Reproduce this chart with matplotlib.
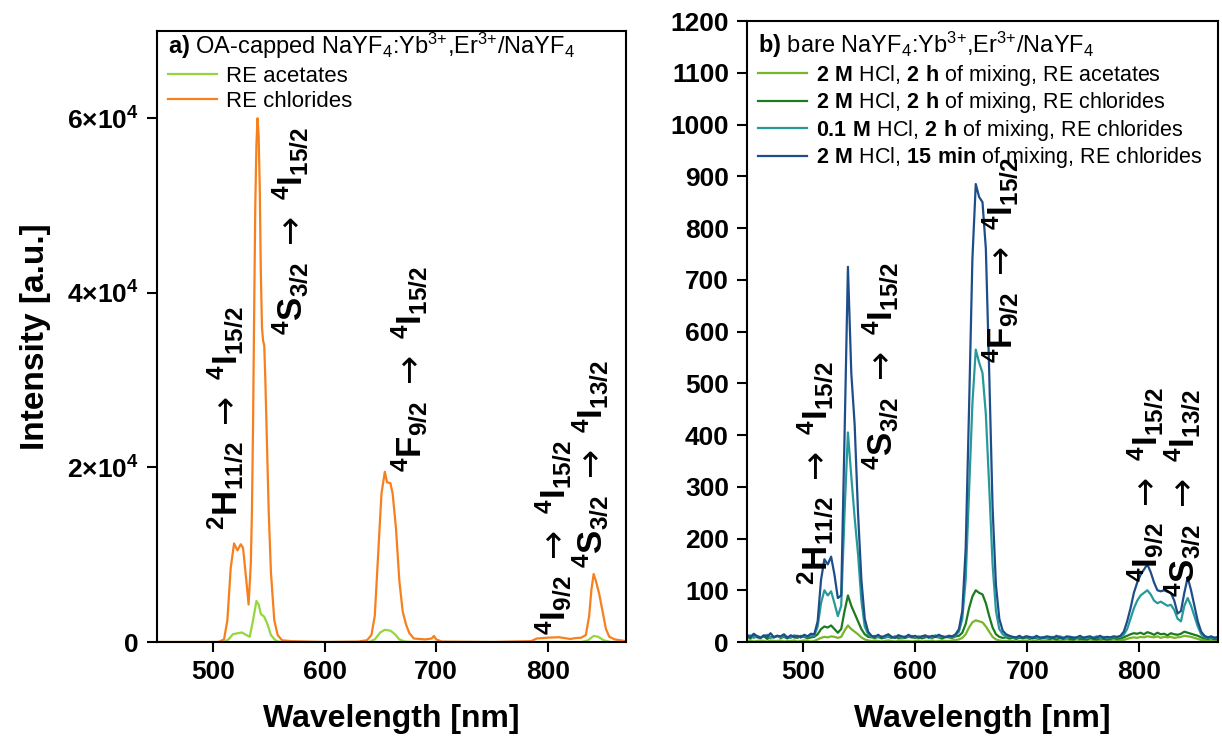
import numpy as np
import matplotlib.pyplot as plt

plt.rcParams['font.family'] = ['Liberation Sans', 'DejaVu Sans']
plt.rcParams['mathtext.fontset'] = 'custom'
plt.rcParams['mathtext.rm'] = 'Liberation Sans'
plt.rcParams['mathtext.bf'] = 'Liberation Sans:bold'
plt.rcParams['mathtext.sf'] = 'DejaVu Sans'
plt.rcParams['mathtext.default'] = 'regular'

# ---- panel a) OA-capped particles (smooth spectra) ----
wl_a_chl = [450, 480, 505, 510, 513, 516, 519, 522, 525, 527, 530, 532, 534, 535, 536,
            537, 538, 539, 540, 541, 542, 543, 544, 545, 546, 547, 548, 550, 552, 555,
            558, 562, 570, 600, 630, 638, 642, 645, 648, 651, 654, 656, 659, 661, 664,
            667, 670, 673, 676, 680, 690, 696, 698, 700, 705, 750, 785, 790, 800, 810,
            815, 820, 825, 830, 834, 837, 839, 841, 843, 846, 849, 852, 855, 860, 870]
int_a_chl = [0, 0, 0, 300, 2500, 8500, 11300, 10500, 11200, 10800, 7000, 4300, 9000, 15000, 25000,
             38000, 50000, 57000, 60000, 58000, 52000, 42000, 36000, 34500, 34000, 30000, 25000, 15000, 8000, 2500,
             800, 200, 100, 0, 50, 200, 800, 3000, 10000, 17000, 19500, 18300, 18200, 17000, 13000,
             7000, 3500, 2000, 1000, 400, 300, 400, 700, 300, 50, 0, 100, 400, 500, 550,
             450, 350, 450, 500, 800, 3000, 6000, 7800, 7000, 5500, 3500, 1500, 600, 300, 100]

wl_a_ac = [450, 510, 514, 518, 522, 526, 530, 533, 536, 539, 541, 543, 546, 549, 552,
           556, 560, 640, 645, 650, 654, 659, 663, 667, 672, 680, 830, 836, 841, 845,
           850, 856, 870]
int_a_ac = [0, 0, 300, 900, 1000, 1100, 800, 600, 2500, 4700, 4300, 3200, 2900, 2000, 800,
            200, 0, 0, 300, 1100, 1400, 1300, 900, 300, 50, 0, 0, 200, 700, 600,
            200, 0, 0]

a_labels = ['RE acetates', 'RE chlorides']
a_colors = ['#95D63C', '#F7801E']
a_yticks = [0, 20000, 40000, 60000]
a_yticklabels = ['0', '2×10$^{4}$', '4×10$^{4}$', '6×10$^{4}$']

# ---- panel b) bare particles (noisy spectra, 3 nm sampling) ----
wl_b = np.arange(450, 871, 3)

b_ac_2M_2h = [2, 3, 1, 2, 3, 2, 1, 3, 2, 2,
              3, 1, 2, 2, 3, 1, 2, 3, 2, 1,
              2, 5, 8, 10, 9, 11, 10, 8, 10, 22,
              32, 25, 20, 15, 9, 5, 3, 2, 3, 2,
              1, 2, 3, 2, 1, 2, 3, 2, 2, 1,
              2, 3, 1, 2, 2, 3, 1, 2, 3, 2,
              2, 3, 4, 5, 8, 15, 28, 38, 42, 40,
              38, 30, 20, 10, 5, 3, 2, 2, 3, 2,
              1, 2, 2, 3, 1, 2, 2, 1, 3, 2,
              2, 1, 2, 3, 2, 1, 2, 2, 1, 2,
              3, 2, 1, 2, 2, 3, 1, 2, 2, 1,
              2, 3, 4, 6, 8, 9, 8, 10, 9, 11,
              10, 9, 11, 8, 10, 9, 10, 8, 9, 10,
              12, 11, 10, 8, 6, 4, 3, 2, 2, 1,
              2]
b_chl_2M_2h = [10, 7, 12, 9, 8, 11, 6, 10, 9, 12,
               8, 10, 7, 11, 9, 8, 12, 10, 7, 9,
               10, 15, 25, 30, 28, 32, 25, 18, 25, 60,
               90, 70, 55, 40, 25, 15, 10, 9, 8, 10,
               7, 9, 10, 8, 11, 7, 9, 8, 10, 9,
               8, 10, 7, 9, 11, 8, 10, 9, 7, 10,
               9, 8, 11, 12, 18, 35, 65, 88, 100, 95,
               92, 75, 50, 28, 15, 10, 8, 9, 7, 8,
               6, 8, 7, 9, 6, 8, 7, 6, 8, 7,
               6, 7, 5, 8, 6, 7, 6, 5, 7, 6,
               6, 5, 7, 6, 5, 7, 6, 5, 6, 7,
               6, 7, 9, 12, 15, 17, 16, 18, 15, 19,
               17, 14, 18, 15, 16, 13, 17, 15, 14, 16,
               20, 18, 16, 14, 12, 9, 7, 6, 7, 5,
               6]
b_chl_01M_2h = [10, 13, 8, 12, 9, 11, 14, 8, 10, 12,
                9, 12, 10, 8, 13, 11, 9, 12, 10, 13,
                12, 30, 75, 100, 90, 98, 75, 50, 70, 250,
                405, 320, 240, 170, 80, 30, 15, 10, 12, 9,
                11, 8, 12, 10, 9, 13, 8, 11, 10, 12,
                9, 11, 10, 12, 8, 10, 13, 9, 11, 10,
                12, 10, 13, 20, 45, 120, 290, 460, 565, 540,
                520, 440, 300, 150, 60, 25, 15, 11, 10, 9,
                8, 10, 9, 11, 8, 10, 9, 7, 10, 8,
                9, 10, 8, 11, 9, 7, 10, 9, 8, 10,
                9, 8, 10, 9, 11, 8, 10, 9, 8, 10,
                9, 10, 14, 25, 45, 65, 80, 90, 95, 100,
                92, 80, 75, 78, 74, 70, 72, 62, 45, 40,
                70, 85, 70, 50, 30, 15, 10, 8, 9, 8,
                9]
b_chl_2M_15min = [14, 9, 16, 11, 8, 13, 10, 17, 9, 12,
                  11, 15, 8, 13, 10, 12, 9, 14, 11, 16,
                  15, 40, 120, 160, 150, 165, 130, 85, 90, 400,
                  725, 520, 420, 250, 120, 45, 20, 12, 10, 14,
                  9, 12, 15, 10, 8, 13, 11, 9, 14, 10,
                  12, 8, 11, 13, 9, 12, 10, 14, 11, 9,
                  12, 11, 15, 25, 60, 180, 450, 740, 885, 860,
                  850, 760, 520, 260, 110, 45, 22, 15, 12, 10,
                  9, 12, 8, 11, 10, 7, 12, 9, 8, 11,
                  10, 8, 12, 9, 7, 11, 10, 8, 9, 12,
                  8, 10, 11, 7, 9, 12, 8, 10, 9, 11,
                  10, 12, 20, 40, 65, 95, 115, 130, 140, 150,
                  135, 115, 100, 98, 100, 97, 95, 80, 55, 60,
                  95, 125, 100, 70, 40, 20, 12, 9, 11, 8,
                  10]

b_series = [b_ac_2M_2h, b_chl_2M_2h, b_chl_01M_2h, b_chl_2M_15min]
b_labels = [r'$\mathbf{2\ M}$ HCl, $\mathbf{2\ h}$ of mixing, RE acetates',
            r'$\mathbf{2\ M}$ HCl, $\mathbf{2\ h}$ of mixing, RE chlorides',
            r'$\mathbf{0.1\ M}$ HCl, $\mathbf{2\ h}$ of mixing, RE chlorides',
            r'$\mathbf{2\ M}$ HCl, $\mathbf{15\ min}$ of mixing, RE chlorides']
b_colors = ['#78B52A', '#1C7A1F', '#28999A', '#1D4E89']

# transition labels and where they sit (wavelength, intensity of label bottom)
arrow = r' $\mathsf{\rightarrow}$ '
transitions = [r'$^2$H$_{11/2}$' + arrow + r'$^4$I$_{15/2}$',
               r'$^4$S$_{3/2}$' + arrow + r'$^4$I$_{15/2}$',
               r'$^4$F$_{9/2}$' + arrow + r'$^4$I$_{15/2}$',
               r'$^4$I$_{9/2}$' + arrow + r'$^4$I$_{15/2}$',
               r'$^4$S$_{3/2}$' + arrow + r'$^4$I$_{13/2}$']
trans_wl = [511, 569, 676, 805, 838]
trans_y_a = [12800, 35200, 19500, 800, 8500]
trans_y_b = [110, 332, 540, 116, 87]

fig = plt.figure(figsize=(12.22, 7.4), dpi=100)
ax1 = fig.add_axes([0.1285, 0.1324, 0.3838, 0.8257])
ax2 = fig.add_axes([0.6113, 0.1324, 0.3854, 0.8392])

# panel a
ax1.plot(wl_a_ac, int_a_ac, color=a_colors[0], lw=1.6, label=a_labels[0])
ax1.plot(wl_a_chl, int_a_chl, color=a_colors[1], lw=1.6, label=a_labels[1])
ax1.set_xlim(450, 870)
ax1.set_ylim(0, 70000)
ax1.set_yticks(a_yticks)
ax1.set_yticklabels(a_yticklabels)
ax1.set_ylabel('Intensity [a.u.]', fontsize=24, fontweight='bold', labelpad=12)
for t, x, y in zip(transitions, trans_wl, trans_y_a):
    ax1.text(x, y, t, rotation=90, ha='center', va='bottom', fontsize=25, fontweight='bold')
ax1.legend(title=r'$\mathbf{a)}$ OA-capped NaYF$_4$:Yb$^{3{+}}$,Er$^{3{+}}$/NaYF$_4$',
           loc='upper left', bbox_to_anchor=(0.0, 1.018), frameon=False, fontsize=16,
           title_fontsize=17, alignment='left', handlelength=2.2, handletextpad=0.4,
           labelspacing=0.2, borderaxespad=0.2, borderpad=0.3)

# panel b
for vals, lab, col in zip(b_series, b_labels, b_colors):
    ax2.plot(wl_b, vals, color=col, lw=1.6, label=lab)
ax2.set_xlim(450, 870)
ax2.set_ylim(0, 1200)
ax2.set_yticks(range(0, 1201, 100))
for t, x, y in zip(transitions, trans_wl, trans_y_b):
    ax2.text(x, y, t, rotation=90, ha='center', va='bottom', fontsize=25, fontweight='bold')
ax2.legend(title=r'$\mathbf{b)}$ bare NaYF$_4$:Yb$^{3{+}}$,Er$^{3{+}}$/NaYF$_4$',
           loc='upper left', bbox_to_anchor=(0.0, 1.003), frameon=False,
           fontsize=15.5, title_fontsize=17, alignment='left', handlelength=2.3,
           handletextpad=0.4, labelspacing=0.12, borderaxespad=0.2, borderpad=0.3)

for ax in (ax1, ax2):
    ax.set_xticks([500, 600, 700, 800])
    ax.set_xlabel('Wavelength [nm]', fontsize=23, fontweight='bold', labelpad=14)
    ax.tick_params(axis='both', direction='out', length=7, width=1.5, labelsize=19, pad=6)
    for s in ax.spines.values():
        s.set_linewidth(1.5)
    for lbl in ax.get_xticklabels() + ax.get_yticklabels():
        lbl.set_fontweight('bold')

fig.savefig('out.png', dpi=100)
